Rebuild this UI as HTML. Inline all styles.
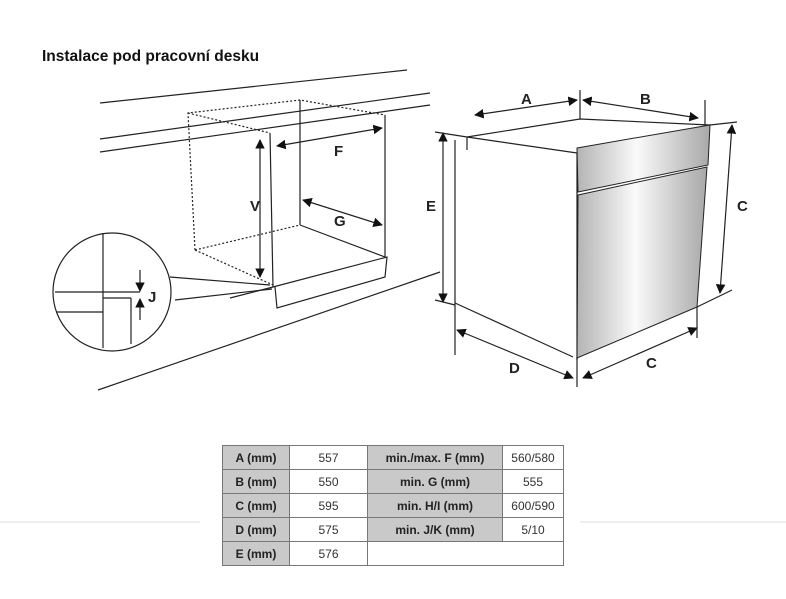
<!DOCTYPE html>
<html><head><meta charset="utf-8"><style>
body{margin:0;background:#fff;width:786px;height:599px;overflow:hidden;position:relative;font-family:"Liberation Sans",sans-serif}
.t{position:absolute;left:42px;top:48px;font-size:15.5px;font-weight:bold;color:#111}
table{position:absolute;left:222px;top:445px;border-collapse:collapse;font-size:12px;color:#333}
td{border:1.5px solid #777;height:23px;padding:0;text-align:center}
td.g{background:#c9c9c9;font-weight:bold;color:#222}
</style></head><body>
<div class="t">Instalace pod pracovní desku</div>
<svg width="786" height="599" style="position:absolute;left:0;top:0" font-family="Liberation Sans" font-weight="bold" font-size="15" fill="#222">
<defs><marker id="a" viewBox="0 0 10 10" refX="9" refY="5" markerWidth="8" markerHeight="8" orient="auto-start-reverse"><path d="M0,0L10,5L0,10z" fill="#111"/></marker></defs>
<g stroke="#222" stroke-width="1.2" fill="none">
<line x1="100" y1="103" x2="407" y2="70"/>
<line x1="100" y1="139" x2="430" y2="93"/>
<line x1="100" y1="152" x2="430" y2="105"/>
<line x1="98" y1="390" x2="440" y2="272"/>
<g stroke-dasharray="2,2">
<polyline points="195,250 188,113 300,100 385,115"/>
<line x1="188" y1="113" x2="270" y2="133"/>
<line x1="195" y1="250" x2="273" y2="285"/>
<line x1="195" y1="250" x2="300" y2="225"/>
</g>
<line x1="270" y1="133" x2="273" y2="287"/>
<line x1="385" y1="115" x2="385" y2="257"/>
<line x1="300" y1="100" x2="300" y2="225"/>
<line x1="300" y1="225" x2="385" y2="257"/>
<polyline points="273,287 387,257 385,277 277,308 275,287"/>
<line x1="230" y1="298" x2="273" y2="287"/>
<line x1="260" y1="140" x2="260" y2="277" marker-start="url(#a)" marker-end="url(#a)"/>
<line x1="277" y1="146" x2="382" y2="128" marker-start="url(#a)" marker-end="url(#a)"/>
<line x1="303" y1="200" x2="382" y2="225" marker-start="url(#a)" marker-end="url(#a)"/>
<circle cx="112" cy="292" r="59"/>
<line x1="103" y1="233" x2="103" y2="348"/>
<line x1="131" y1="298" x2="131" y2="344"/>
<line x1="55" y1="292" x2="140" y2="292"/>
<line x1="103" y1="298" x2="131" y2="298"/>
<line x1="56" y1="312" x2="103" y2="312"/>
<line x1="140" y1="270" x2="140" y2="291" marker-end="url(#a)"/>
<line x1="140" y1="320" x2="140" y2="299" marker-end="url(#a)"/>
<line x1="170" y1="277" x2="270" y2="285"/>
<line x1="175" y1="300" x2="272" y2="289"/>
<polygon points="467,137 580,119 710,125 577,153"/>
<line x1="455" y1="140" x2="455" y2="355"/>
<line x1="467" y1="137" x2="467" y2="150"/>
<line x1="455" y1="303" x2="573" y2="357"/>
<line x1="577" y1="153" x2="577" y2="360"/>
<line x1="580" y1="90" x2="580" y2="119"/>
<line x1="705" y1="100" x2="705" y2="125"/>
<line x1="475" y1="115" x2="577" y2="100" marker-start="url(#a)" marker-end="url(#a)"/>
<line x1="583" y1="100" x2="698" y2="118" marker-start="url(#a)" marker-end="url(#a)"/>
<line x1="443" y1="133" x2="443" y2="302" marker-start="url(#a)" marker-end="url(#a)"/>
<line x1="435" y1="132" x2="467" y2="137"/>
<line x1="435" y1="300" x2="455" y2="305"/>
<line x1="732" y1="125" x2="720" y2="293" marker-start="url(#a)" marker-end="url(#a)"/>
<line x1="710" y1="125" x2="737" y2="122"/>
<line x1="697" y1="307" x2="732" y2="290"/>
<line x1="457" y1="330" x2="573" y2="378" marker-start="url(#a)" marker-end="url(#a)"/>
<line x1="583" y1="378" x2="697" y2="328" marker-start="url(#a)" marker-end="url(#a)"/>
<line x1="577" y1="357" x2="577" y2="387"/>
<line x1="697" y1="307" x2="697" y2="338"/>
</g>
<defs><linearGradient id="m" x1="0" x2="1"><stop offset="0" stop-color="#b4b4b4"/><stop offset=".45" stop-color="#fafafa"/><stop offset="1" stop-color="#a8a8a8"/></linearGradient></defs>
<polygon points="577,148 710,125 708,165 578,192" fill="url(#m)" stroke="#222"/>
<polygon points="578,195 707,167 697,307 577,358" fill="url(#m)" stroke="#222"/>
<text x="250" y="211">V</text><text x="334" y="156">F</text><text x="334" y="226">G</text>
<text x="148" y="302">J</text>
<text x="521" y="104">A</text><text x="640" y="104">B</text><text x="426" y="211">E</text>
<text x="737" y="211">C</text><text x="509" y="373">D</text><text x="646" y="368">C</text>
<line x1="0" y1="522" x2="200" y2="522" stroke="#ddd"/><line x1="580" y1="522" x2="786" y2="522" stroke="#ddd"/>
</svg>
<table>
<tr><td class="g" style="width:66px">A (mm)</td><td style="width:77px">557</td><td class="g" style="width:134px">min./max. F (mm)</td><td style="width:60px">560/580</td></tr>
<tr><td class="g">B (mm)</td><td>550</td><td class="g">min. G (mm)</td><td>555</td></tr>
<tr><td class="g">C (mm)</td><td>595</td><td class="g">min. H/I (mm)</td><td>600/590</td></tr>
<tr><td class="g">D (mm)</td><td>575</td><td class="g">min. J/K (mm)</td><td>5/10</td></tr>
<tr><td class="g">E (mm)</td><td>576</td><td colspan="2"></td></tr>
</table>
</body></html>
